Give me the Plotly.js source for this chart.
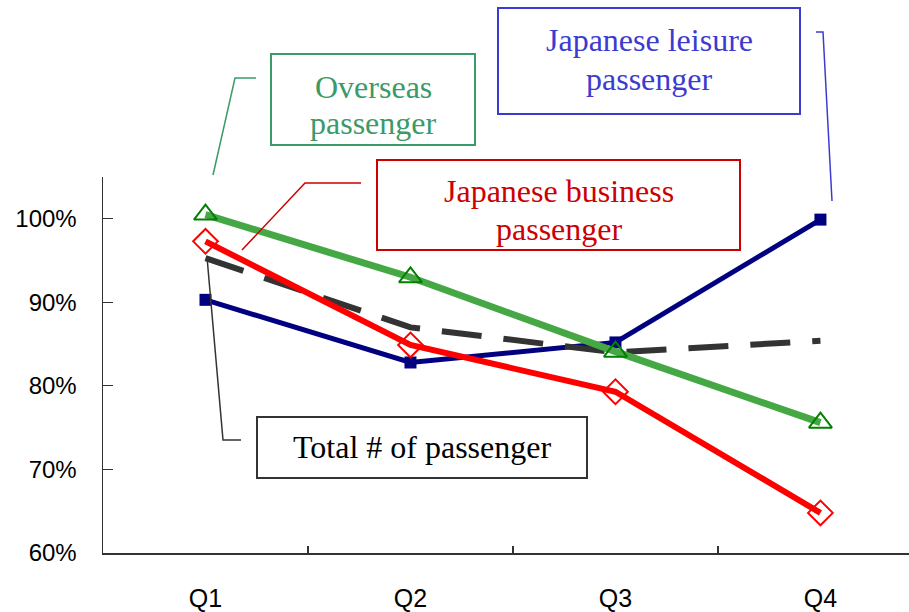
<!DOCTYPE html>
<html><head><meta charset="utf-8">
<script src="https://cdn.plot.ly/plotly-3.0.1.min.js"></script>
<style>html,body{margin:0;padding:0;background:#fff}#chart{width:909px;height:612px}</style>
</head><body><div id="chart"></div>
<script>
const quarters = ['Q1','Q2','Q3','Q4'];
const overseas = [100.5, 93.0, 84.1, 75.6];
const jpBusiness = [97.3, 84.9, 79.3, 64.8];
const jpLeisure = [90.3, 82.8, 85.2, 99.9];
const totalPax = [95.3, 87.0, 84.0, 85.4];
const yTickVals = [60, 70, 80, 90, 100];
const yTickText = ['60%', '70%', '80%', '90%', '100%'];

const L = 103, T = 177, W = 806, H = 376;
function px(x){ return (x - L) / W; }
function py(y){ return (T + H - y) / H; }
function rect(x0,y0,x1,y1,color){
  return {type:'rect', xref:'paper', yref:'paper', x0:px(x0), x1:px(x1), y0:py(y1), y1:py(y0),
    line:{color:color, width:2}, fillcolor:'rgba(255,255,255,0)', layer:'above'};
}
function conn(pts,color){
  let d = pts.map((p,i)=> (i? 'L':'M') + px(p[0]) + ',' + py(p[1])).join(' ');
  return {type:'path', xref:'paper', yref:'paper', path:d, line:{color:color, width:1.5}, layer:'above'};
}
function label(text,x,y,color){
  return {xref:'paper', yref:'paper', x:px(x), y:py(y), xanchor:'center', yanchor:'middle',
    text:text, showarrow:false, font:{family:'Liberation Serif, Times New Roman, serif', size:32, color:color}};
}
const cG = '#3a9a68', cB = '#3b3bd0', cR = '#cc0000', cK = '#333333';
const tickFont = {family:'Liberation Sans, Arial, sans-serif', color:'#000'};

const traces = [
  {x:quarters, y:jpLeisure, mode:'lines+markers', line:{color:'#000080', width:5},
   marker:{symbol:'square', size:12, color:'#000080'}},
  {x:quarters, y:totalPax, mode:'lines', line:{color:'#333333', width:6, dash:'40px,22px'}},
  {x:quarters, y:overseas, mode:'lines+markers', line:{color:'#45a845', width:7},
   marker:{symbol:'triangle-up-open', size:20, color:'#008000', line:{width:2, color:'#008000'}}},
  {x:quarters, y:jpBusiness, mode:'lines+markers', line:{color:'#ff0000', width:6},
   marker:{symbol:'diamond-open', size:19, color:'#ff0000', line:{width:2, color:'#ff0000'}}}
];
traces.forEach(t=>{t.cliponaxis=false; t.hoverinfo='skip';});

const layout = {
  width:909, height:612, showlegend:false,
  margin:{l:L, r:0, t:T, b:59},
  paper_bgcolor:'#fff', plot_bgcolor:'#fff',
  xaxis:{type:'category', categoryorder:'array', categoryarray:quarters, range:[-0.5, 3.432],
    showline:true, linecolor:'#333', linewidth:1.5, showgrid:false, zeroline:false,
    ticks:'inside', tickson:'boundaries', ticklen:7, tickcolor:'#333', tickwidth:1.2,
    ticklabelstandoff:22,
    tickfont:Object.assign({size:25}, tickFont)},
  yaxis:{range:[60,105], tickmode:'array', tickvals:yTickVals, ticktext:yTickText,
    showline:true, linecolor:'#333', linewidth:1.5, showgrid:false, zeroline:false,
    ticks:'inside', ticklen:10, tickcolor:'#333', tickwidth:1.2, ticklabelstandoff:20,
    tickfont:Object.assign({size:24}, tickFont)},
  shapes:[
    rect(271,54,475,145,cG), conn([[256,78],[235,78],[213,175]],cG),
    rect(498,8,800,114,cB), conn([[816,32],[823,32],[832,201]],cB),
    rect(377,160,740,250,cR), conn([[361,183],[305,183],[242,250]],cR),
    rect(257,417,587,478,cK), conn([[241,440],[223,440],[207,257]],cK)
  ],
  annotations:[
    label('Overseas',373,87,cG), label('passenger',373,123,cG),
    label('Japanese leisure',649,40,cB), label('passenger',649,79,cB),
    label('Japanese business',559,191,cR), label('passenger',559,229,cR),
    label('Total # of passenger',422,447,'#000')
  ]
};
Plotly.newPlot('chart', traces, layout, {displayModeBar:false, staticPlot:true});
</script></body></html>
